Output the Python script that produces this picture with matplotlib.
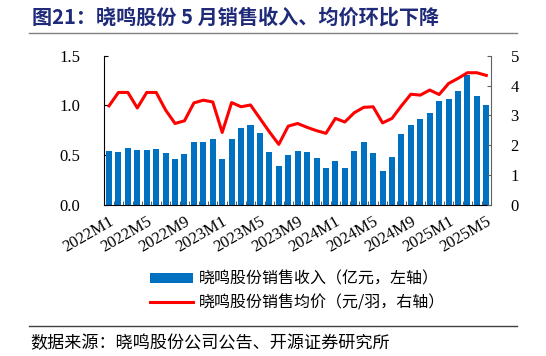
import matplotlib.pyplot as plt
import numpy as np

plt.rcParams['font.family'] = ['Liberation Serif', 'Noto Sans CJK SC']

# monthly data, 2022M1 .. 2025M5
months = ['%dM%d' % (y, m) for y in range(2022, 2026) for m in range(1, 13)][:41]

revenue = [0.54, 0.53, 0.57, 0.55, 0.55, 0.56, 0.52, 0.46, 0.51, 0.63,
           0.63, 0.665, 0.46, 0.665, 0.775, 0.80, 0.72, 0.535, 0.39, 0.50,
           0.54, 0.53, 0.47, 0.375, 0.44, 0.375, 0.545, 0.63, 0.525, 0.34,
           0.485, 0.71, 0.80, 0.86, 0.925, 1.045, 1.065, 1.15, 1.31, 1.10,
           1.005]

price = [3.32, 3.77, 3.77, 3.25, 3.77, 3.77, 3.18, 2.73, 2.82, 3.42,
         3.51, 3.45, 2.43, 3.43, 3.29, 3.35, 2.90, 2.45, 2.03, 2.64,
         2.73, 2.60, 2.49, 2.40, 2.90, 2.78, 3.09, 3.27, 3.29, 2.75,
         2.90, 3.32, 3.71, 3.68, 3.85, 3.70, 4.07, 4.24, 4.43, 4.43,
         4.34]

bar_label = '晓鸣股份销售收入（亿元，左轴）'
line_label = '晓鸣股份销售均价（元/羽，右轴）'

fig = plt.figure(figsize=(5.46, 3.56), dpi=100)
ax = fig.add_axes([0.1905, 0.4242, 0.7088, 0.4193])
ax2 = ax.twinx()

x = np.arange(len(months))
b = ax.bar(x, revenue, width=0.64, color='#0070C0', label=bar_label, zorder=2)
l, = ax2.plot(x, price, color='#FF0000', lw=2.2, label=line_label, zorder=3)

ax.set_xlim(-0.53, 40.5)
ax.set_ylim(0, 1.5)
ax2.set_ylim(0, 5)
ax.set_yticks([0, 0.5, 1.0, 1.5])
ax.set_yticklabels(['0.0', '0.5', '1.0', '1.5'])
ax2.set_yticks(range(6))

ax.set_xticks(x[::4])
ax.set_xticklabels(months[::4], rotation=30, ha='right', rotation_mode='anchor')
ax.set_xticks(np.arange(-0.5, 41, 1), minor=True)
ax.tick_params(axis='x', which='major', length=0, pad=6, labelsize=12)
ax.tick_params(axis='x', which='minor', direction='in', length=3, color='#404040')
ax.tick_params(axis='y', direction='in', length=3, labelsize=12, pad=17)
ax2.tick_params(axis='y', direction='in', length=3, labelsize=12, pad=14, color='#606060')

for a in (ax, ax2):
    a.spines['top'].set_visible(False)
ax2.spines['left'].set_visible(False)
ax2.spines['bottom'].set_visible(False)
ax2.spines['right'].set_color('#606060')
ax.spines['right'].set_visible(False)

fig.legend([b, l], [bar_label, line_label], loc='upper left',
           bbox_to_anchor=(0.248, 0.28), frameon=False,
           handlelength=2.7, handleheight=0.6, labelspacing=0.4,
           handletextpad=0.35, prop={'family': 'Noto Sans CJK SC', 'size': 11.5})

fig.text(0.058, 0.952, '图21：晓鸣股份 5 月销售收入、均价环比下降', fontsize=14.5,
         fontweight='bold', color='#1F2A78', va='center',
         family=['Noto Sans CJK SC'])
fig.add_artist(plt.Line2D([0.053, 0.947], [0.907, 0.907], color='#808080', lw=1))
fig.add_artist(plt.Line2D([0.053, 0.947], [0.085, 0.085], color='#404040', lw=1))
fig.text(0.055, 0.036, '数据来源：晓鸣股份公司公告、开源证券研究所', fontsize=12.3,
         va='center', family=['Noto Sans CJK SC'])

fig.savefig('out.png', dpi=100)
